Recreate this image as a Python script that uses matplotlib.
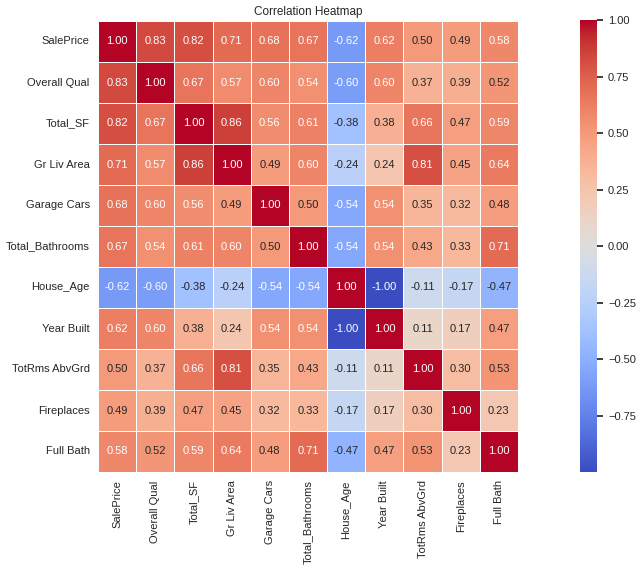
import numpy as np
import pandas as pd
import seaborn as sns
import matplotlib
matplotlib.use("Agg")
import matplotlib.pyplot as plt

labels = ["SalePrice", "Overall Qual", "Total_SF", "Gr Liv Area", "Garage Cars",
          "Total_Bathrooms", "House_Age", "Year Built", "TotRms AbvGrd",
          "Fireplaces", "Full Bath"]

r_saleprice = [1.00, 0.83, 0.82, 0.71, 0.68, 0.67, -0.62, 0.62, 0.50, 0.49, 0.58]
r_overall = [0.83, 1.00, 0.67, 0.57, 0.60, 0.54, -0.60, 0.60, 0.37, 0.39, 0.52]
r_total_sf = [0.82, 0.67, 1.00, 0.86, 0.56, 0.61, -0.38, 0.38, 0.66, 0.47, 0.59]
r_grliv = [0.71, 0.57, 0.86, 1.00, 0.49, 0.60, -0.24, 0.24, 0.81, 0.45, 0.64]
r_garage = [0.68, 0.60, 0.56, 0.49, 1.00, 0.50, -0.54, 0.54, 0.35, 0.32, 0.48]
r_baths = [0.67, 0.54, 0.61, 0.60, 0.50, 1.00, -0.54, 0.54, 0.43, 0.33, 0.71]
r_age = [-0.62, -0.60, -0.38, -0.24, -0.54, -0.54, 1.00, -1.00, -0.11, -0.17, -0.47]
r_built = [0.62, 0.60, 0.38, 0.24, 0.54, 0.54, -1.00, 1.00, 0.11, 0.17, 0.47]
r_totrms = [0.50, 0.37, 0.66, 0.81, 0.35, 0.43, -0.11, 0.11, 1.00, 0.30, 0.53]
r_fire = [0.49, 0.39, 0.47, 0.45, 0.32, 0.33, -0.17, 0.17, 0.30, 1.00, 0.23]
r_fullbath = [0.58, 0.52, 0.59, 0.64, 0.48, 0.71, -0.47, 0.47, 0.53, 0.23, 1.00]

corr = pd.DataFrame([r_saleprice, r_overall, r_total_sf, r_grliv, r_garage, r_baths,
                     r_age, r_built, r_totrms, r_fire, r_fullbath],
                    index=labels, columns=labels)

sns.set_theme(style="white")
plt.rcParams['font.family'] = ['Liberation Sans', 'DejaVu Sans']

fig = plt.figure(figsize=(6.44, 5.66), dpi=100)
W, H = 644, 566
ax = fig.add_axes([98 / W, 1 - 472 / H, 420 / W, 451 / H])
cax = fig.add_axes([580 / W, 1 - 472 / H, 17 / W, 452 / H])

# the real min was just above -1, so the colorbar has no -1.00 tick
sns.heatmap(corr, annot=True, fmt=".2f", cmap="coolwarm", vmin=-0.998, vmax=1.0,
            linewidths=0.5, linecolor="white", ax=ax, cbar_ax=cax,
            annot_kws={"size": 8})

ax.set_title("Correlation Heatmap", fontsize=8.5, pad=4)
ax.tick_params(axis="both", labelsize=8, length=0, pad=6)
ax.set_xticklabels(labels, rotation=90)
ax.set_yticklabels(labels, rotation=0)
cax.tick_params(labelsize=8, length=4, pad=4)

fig.savefig("out.png", dpi=100)
